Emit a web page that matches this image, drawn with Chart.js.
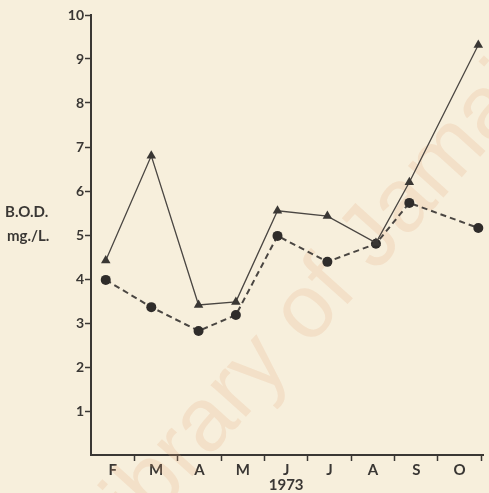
<!DOCTYPE html>
<html>
<head>
<meta charset="utf-8">
<script src="https://cdn.jsdelivr.net/npm/chart.js@4.4.1/dist/chart.umd.min.js"></script>
<style>
  html, body { margin: 0; padding: 0; background: #f7efdc; }
  #wrap { width: 489px; height: 493px; position: relative; }
</style>
</head>
<body>
<div id="wrap"><canvas id="bod"></canvas></div>
<script>
// month letters along the bottom, one per month interval (Feb .. Oct)
const months = ['F', 'M', 'A', 'M', 'J', 'J', 'A', 'S', 'O'];
// sampling dates, in months counted from 1 February
const sampleDates = [0.34, 1.39, 2.48, 3.34, 4.30, 5.45, 6.57, 7.34, 8.93];
// B.O.D. in mg./L. for the two series
const bodTriangles = [4.42, 6.8, 3.41, 3.48, 5.55, 5.43, 4.82, 6.2, 9.32];
const bodCircles = [3.98, 3.36, 2.82, 3.18, 4.98, 4.39, 4.8, 5.73, 5.16];
const yTicks = [1, 2, 3, 4, 5, 6, 7, 8, 9, 10];

const ink = '#3a3734';
const lineInk = '#4a4642';
const font = { family: 'Lato, "DejaVu Sans", sans-serif', size: 14, weight: 'bold' };
const monthFont = { family: 'Lato, "DejaVu Sans", sans-serif', size: 15, weight: 'bold' };

const pts = (vals) => sampleDates.map((x, i) => ({ x: x, y: vals[i] }));

// library stamp across the page, under the lines
const stamp = {
  id: 'stamp',
  beforeDatasetsDraw(chart) {
    const ctx = chart.ctx;
    ctx.save();
    ctx.translate(128, 548);
    ctx.rotate(-48 * Math.PI / 180);
    ctx.fillStyle = 'rgba(228, 165, 120, 0.2)';
    ctx.font = '90px "Liberation Sans", Arial, sans-serif';
    ctx.textBaseline = 'alphabetic';
    ctx.fillText('library of Jamaica', 0, 0);
    ctx.restore();
  }
};

// extra captions: axis name on the left, year under June
const captions = {
  id: 'captions',
  afterDraw(chart) {
    const { ctx, scales } = chart;
    ctx.save();
    ctx.fillStyle = ink;
    ctx.font = 'bold 15px Lato, "DejaVu Sans", sans-serif';
    ctx.textAlign = 'left';
    ctx.textBaseline = 'middle';
    ctx.fillText('B.O.D.', 5, scales.y.getPixelForValue(5.53));
    ctx.fillText('mg./L.', 7, scales.y.getPixelForValue(4.98));
    ctx.textAlign = 'center';
    ctx.fillText('1973', scales.x.getPixelForValue(4.5), 485);
    ctx.restore();
  }
};

new Chart(document.getElementById('bod'), {
  type: 'line',
  data: {
    datasets: [
      {
        data: pts(bodTriangles),
        borderColor: lineInk,
        borderWidth: 1.3,
        pointStyle: 'triangle',
        pointRadius: 5.5,
        pointBorderWidth: 0,
        pointBackgroundColor: ink,
        tension: 0
      },
      {
        data: pts(bodCircles),
        borderColor: lineInk,
        borderWidth: 2,
        borderDash: [6, 4],
        pointStyle: 'circle',
        pointRadius: 5,
        pointBorderWidth: 0,
        pointBackgroundColor: '#2f2c2a',
        tension: 0
      }
    ]
  },
  options: {
    responsive: true,
    maintainAspectRatio: false,
    animation: false,
    clip: false,
    layout: { padding: { top: 15, right: 0, left: 0, bottom: 0 } },
    plugins: { legend: { display: false }, tooltip: { enabled: false } },
    scales: {
      x: {
        type: 'linear',
        min: 0,
        max: 9.05,
        afterBuildTicks(scale) {
          const t = [];
          for (let i = 0; i <= 9; i++) t.push({ value: i });
          months.forEach((m, i) => t.push({ value: i + 0.5 }));
          scale.ticks = t.sort((a, b) => a.value - b.value);
        },
        afterFit(scale) { scale.height = 38; },
        border: { display: true, color: ink, width: 2 },
        grid: {
          drawOnChartArea: false,
          drawTicks: true,
          tickLength: 6,
          tickWidth: 1.5,
          tickColor: (c) => (c.tick && Number.isInteger(c.tick.value) && c.tick.value > 0) ? ink : 'rgba(0,0,0,0)'
        },
        ticks: {
          color: ink,
          font: monthFont,
          padding: 0,
          maxRotation: 0,
          autoSkip: false,
          callback: (v) => Number.isInteger(v) ? '' : months[Math.floor(v)]
        }
      },
      y: {
        min: 0,
        max: 10,
        afterBuildTicks(scale) {
          scale.ticks = yTicks.map((v) => ({ value: v }));
        },
        afterFit(scale) { scale.width = 91; },
        border: { display: true, color: ink, width: 2 },
        grid: {
          drawOnChartArea: false,
          drawTicks: true,
          tickLength: 6,
          tickWidth: 1.5,
          tickColor: ink
        },
        ticks: {
          color: ink,
          font: font,
          padding: 1
        }
      }
    }
  },
  plugins: [stamp, captions]
});
</script>
</body>
</html>
